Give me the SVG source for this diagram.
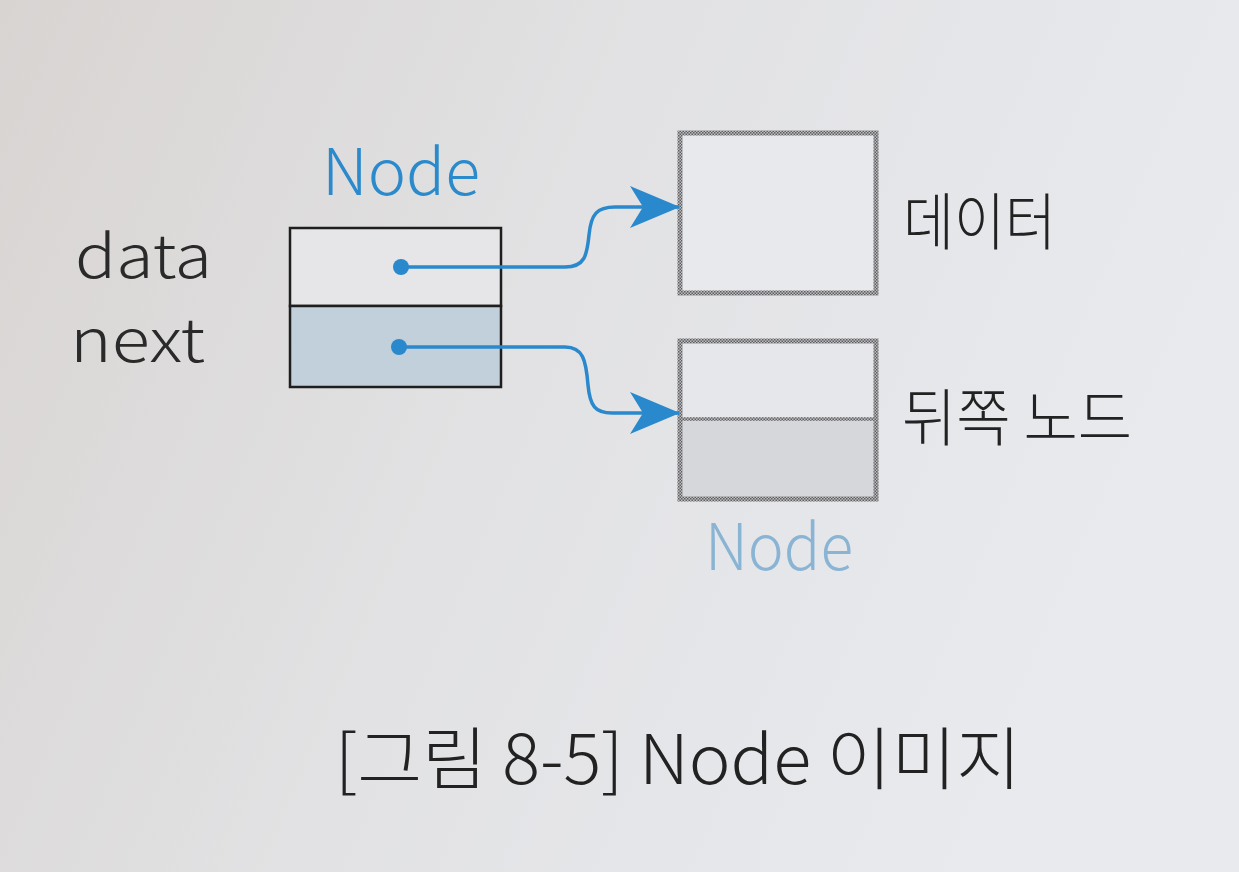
<svg xmlns="http://www.w3.org/2000/svg" width="1239" height="872" viewBox="0 0 1239 872">
<defs>
<linearGradient id="bg" x1="0" y1="0" x2="1" y2="0.3">
<stop offset="0" stop-color="#d8d4d2"/>
<stop offset="0.5" stop-color="#e2e2e4"/>
<stop offset="1" stop-color="#e8eaee"/>
</linearGradient>
<marker id="arrow" viewBox="0 0 50 42" refX="49" refY="21" markerWidth="50" markerHeight="42" markerUnits="userSpaceOnUse" orient="auto">
<path d="M0,0 L50,21 L0,42 L13,21 Z" fill="#2a88cc"/>
</marker>
<pattern id="checker" width="3" height="3" patternUnits="userSpaceOnUse">
<rect width="3" height="3" fill="#bdbdc0"/>
<rect width="1.5" height="1.5" fill="#5e5e60"/>
<rect x="1.5" y="1.5" width="1.5" height="1.5" fill="#5e5e60"/>
</pattern>
</defs>
<style>
.lbl{font-family:"Noto Sans CJK KR","Liberation Sans",sans-serif;fill:#2a2a2a;font-weight:300}
.kr{font-family:"Noto Sans CJK KR","Liberation Sans",sans-serif;fill:#222;font-weight:300}
.blue{fill:#2b8acb}
.lblue{fill:#8ab4d4}
.cell{stroke:#1e1e1e;stroke-width:2.5}
.dotbox{stroke:url(#checker);stroke-width:5}
.conn{fill:none;stroke:#2a88cc;stroke-width:3.5}
</style>
<rect width="1239" height="872" fill="url(#bg)"/>

<g id="node-main">
<text class="lbl blue" x="322" y="195" font-size="64" textLength="158" lengthAdjust="spacingAndGlyphs">Node</text>
<rect class="cell" x="290" y="228" width="211" height="78" fill="#e6e6e8"/>
<rect class="cell" x="290" y="306" width="211" height="81" fill="#c2d0dc"/>
<circle cx="401" cy="267" r="8" fill="#2a88cc"/>
<circle cx="399" cy="347" r="8" fill="#2a88cc"/>
</g>
<g id="label-data"><text class="lbl" x="75" y="278" font-size="60" textLength="137" lengthAdjust="spacingAndGlyphs">data</text></g>
<g id="label-next"><text class="lbl" x="70" y="362" font-size="60" textLength="135" lengthAdjust="spacingAndGlyphs">next</text></g>

<g id="data-box">
<rect class="dotbox" x="680" y="133" width="196" height="160" fill="#e8e9ec"/>
<text class="kr" x="903" y="245" font-size="62" textLength="153" lengthAdjust="spacingAndGlyphs">데이터</text>
</g>

<g id="next-node">
<rect x="680" y="341" width="196" height="78" fill="#e6e7ea"/>
<rect x="680" y="419" width="196" height="80" fill="#d6d7da"/>
<rect class="dotbox" x="680" y="341" width="196" height="158" fill="none"/>
<line x1="680" y1="419" x2="876" y2="419" stroke="url(#checker)" stroke-width="3.5"/>
<text class="lbl lblue" x="705" y="570" font-size="64" textLength="148" lengthAdjust="spacingAndGlyphs">Node</text>
<text class="kr" x="902" y="441" font-size="62" textLength="230" lengthAdjust="spacingAndGlyphs">뒤쪽 노드</text>
</g>

<g id="connectors">
<path class="conn" d="M401,267 H565 C585,267 587,255 589,235 C591,214 597,207 615,207 H679" marker-end="url(#arrow)"/>
<path class="conn" d="M399,347 H565 C583,347 586,360 588,385 C590,406 595,413 612,413 H679" marker-end="url(#arrow)"/>
</g>

<g id="caption">
<text class="kr" x="335" y="784" font-size="68" textLength="686" lengthAdjust="spacingAndGlyphs">[그림 8-5] Node 이미지</text>
</g>
</svg>
